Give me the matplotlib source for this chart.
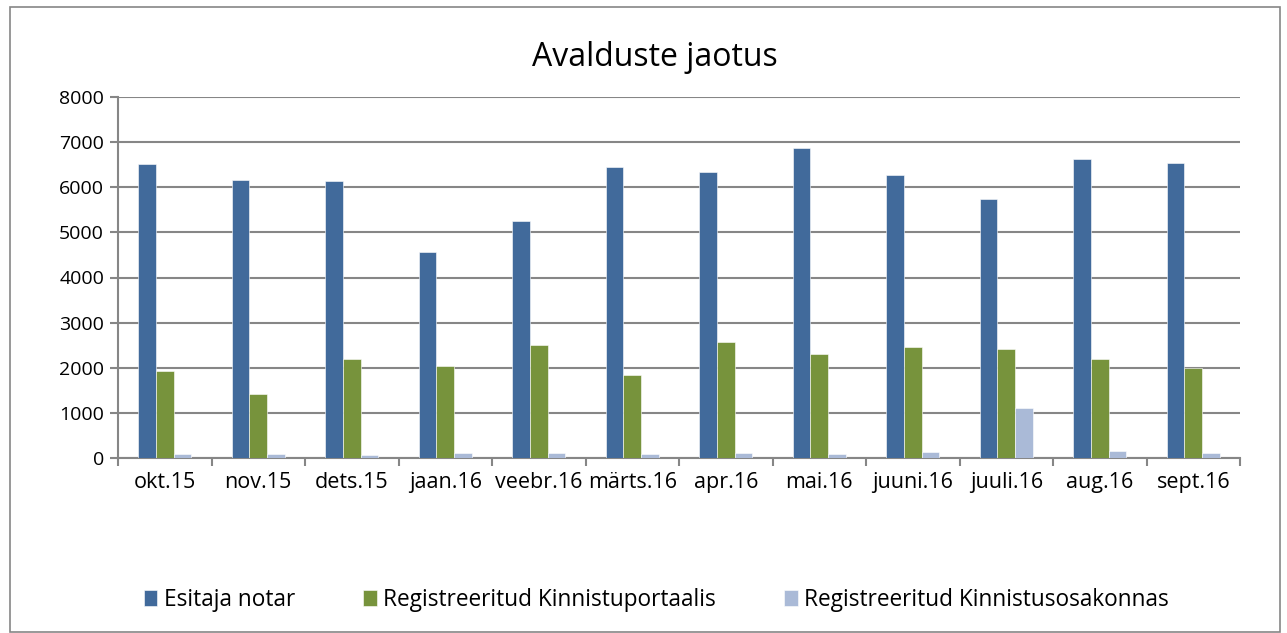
import numpy as np
import matplotlib.pyplot as plt
from matplotlib.patches import Rectangle

months = ['okt.15', 'nov.15', 'dets.15', 'jaan.16', 'veebr.16', 'märts.16',
          'apr.16', 'mai.16', 'juuni.16', 'juuli.16', 'aug.16', 'sept.16']
notar = [6510, 6170, 6145, 4575, 5250, 6455, 6335, 6860, 6270, 5730, 6620, 6535]
portaal = [1930, 1425, 2200, 2045, 2515, 1845, 2575, 2310, 2465, 2425, 2200, 2005]
osakond = [95, 80, 75, 105, 105, 80, 105, 90, 125, 1100, 145, 110]
series_names = ['Esitaja notar', 'Registreeritud Kinnistuportaalis',
                'Registreeritud Kinnistusosakonnas']
colors = ['#416a9b', '#77933c', '#aabad7']

plt.rcParams['font.family'] = ['Open Sans', 'DejaVu Sans']

fig = plt.figure(figsize=(12.87, 6.33), dpi=100)
ax = fig.add_axes([118 / 1287, 1 - 458 / 633, 1122 / 1287, 361 / 633])

x = np.arange(len(months))
w = 0.19
for i, (vals, name, c) in enumerate(zip([notar, portaal, osakond], series_names, colors)):
    ax.bar(x + (i - 1) * w, vals, width=w, color=c, label=name,
           edgecolor='white', linewidth=0.4, zorder=3)

ax.set_xlim(-0.5, len(months) - 0.5)
ax.set_ylim(0, 8000)
ax.set_yticks(range(0, 8001, 1000))
ax.yaxis.grid(True, color='#868686', linewidth=1.5, zorder=0)
ax.set_axisbelow(True)

ax.set_xticks(x)
ax.set_xticklabels(months, fontsize=15.5)
ax.set_xticks(np.arange(-0.5, len(months), 1), minor=True)
ax.tick_params(axis='x', which='major', length=0, pad=10)
ax.tick_params(axis='x', which='minor', length=6, width=1.5, color='#868686')
ax.tick_params(axis='y', length=6, width=1.5, color='#868686', labelsize=14, pad=4)

for s in ['top', 'right']:
    ax.spines[s].set_visible(False)
for s in ['left', 'bottom']:
    ax.spines[s].set_color('#868686')
    ax.spines[s].set_linewidth(1.5)

fig.text(0.509, 1 - 57 / 633, 'Avalduste jaotus', ha='center', va='center', fontsize=23)

fig.legend(loc='center', bbox_to_anchor=(0.51, 1 - 600 / 633), ncol=3, frameon=False,
           fontsize=16.3, handlelength=0.6, handleheight=0.7, handletextpad=0.3,
           columnspacing=3.0)

fig.patches.append(Rectangle((10 / 1287, 0.002), 1270 / 1287, 1 - 8 / 633,
                             transform=fig.transFigure, fill=False,
                             edgecolor='#868686', linewidth=1.2))

fig.savefig('out.png', dpi=100)
